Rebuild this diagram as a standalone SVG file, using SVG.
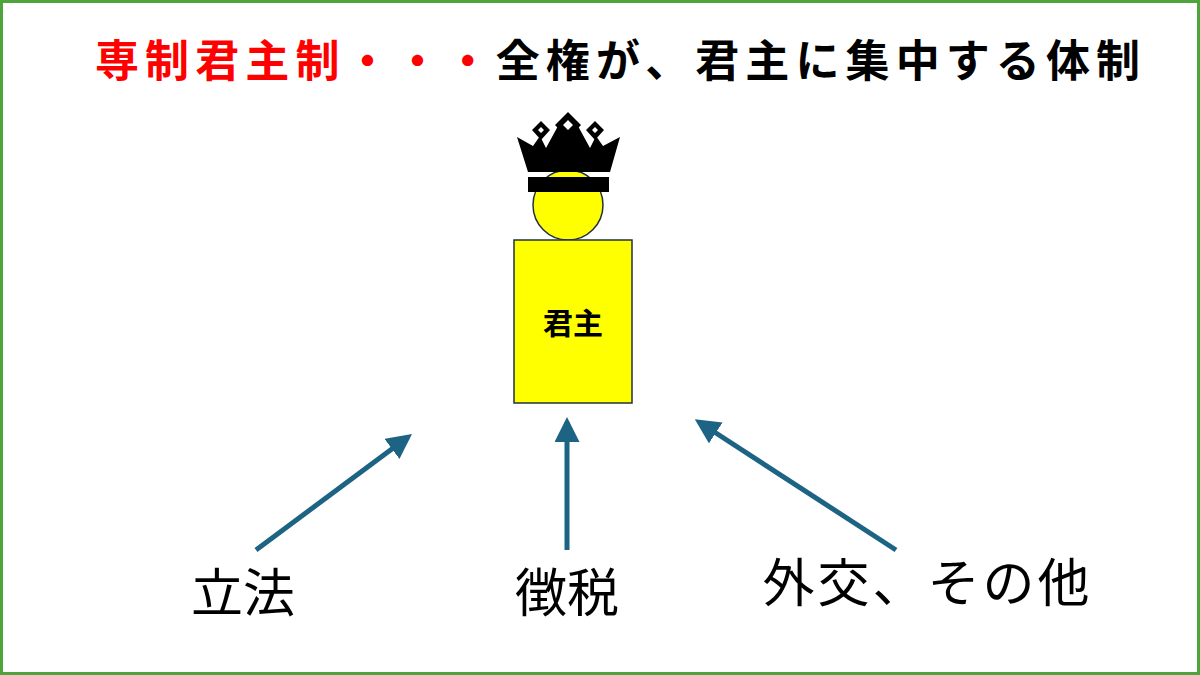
<svg xmlns="http://www.w3.org/2000/svg" width="1200" height="675" viewBox="0 0 1200 675">
<style>
.t{font-family:"Noto Sans CJK JP","Noto Sans CJK SC",sans-serif}
.a{stroke:#1d6383;stroke-width:5;fill:none;marker-end:url(#ah)}
</style>
<defs><marker id="ah" viewBox="0 0 10 10" refX="8" refY="5" markerWidth="5" markerHeight="5" orient="auto" markerUnits="strokeWidth"><path d="M0,0L10,5L0,10z" fill="#1d6383"/></marker></defs>
<rect x="1.5" y="1.5" width="1197" height="672" fill="#fff" stroke="#4ea43a" stroke-width="3"/>
<text class="t" x="95" y="77" font-size="44" font-weight="bold" textLength="1045" lengthAdjust="spacing"><tspan fill="#ff0000">専制君主制・・・</tspan><tspan fill="#000">全権が、君主に集中する体制</tspan></text>
<g id="king">
<circle cx="568" cy="205" r="35" fill="#ffff00" stroke="#203040" stroke-width="1.5"/>
<path d="M517,137 L533,146 L540,136 L546,148 L558,126 L568,138 L578,126 L590,148 L596,136 L603,146 L620,137 L610,172 L528,172 Z" fill="#000"/>
<path d="M568,112 L581,125 L568,139 L555,125Z M541,121 L550,130 L541,140 L532,130Z M595,121 L604,130 L595,140 L586,130Z" fill="#000"/>
<path d="M568,120 L573,125 L568,130 L563,125Z M541,127 L544,130 L541,133 L538,130Z M595,127 L598,130 L595,133 L592,130Z" fill="#fff"/>
<rect x="528" y="177" width="81" height="15" fill="#000"/>
<rect x="514" y="240" width="118" height="163" fill="#ffff00" stroke="#203040" stroke-width="1.5"/>
<text class="t" x="573" y="334" font-size="30" font-weight="bold" text-anchor="middle">君主</text>
</g>
<g id="connectors">
<line class="a" x1="256" y1="550" x2="408" y2="437"/>
<line class="a" x1="567" y1="550" x2="567" y2="422"/>
<line class="a" x1="896" y1="550" x2="699" y2="422"/>
</g>
<g id="labels" font-size="52">
<text class="t" x="243" y="612" text-anchor="middle">立法</text>
<text class="t" x="567" y="612" text-anchor="middle">徴税</text>
<text class="t" x="926" y="602" text-anchor="middle" textLength="327" lengthAdjust="spacing">外交、その他</text>
</g>
</svg>
